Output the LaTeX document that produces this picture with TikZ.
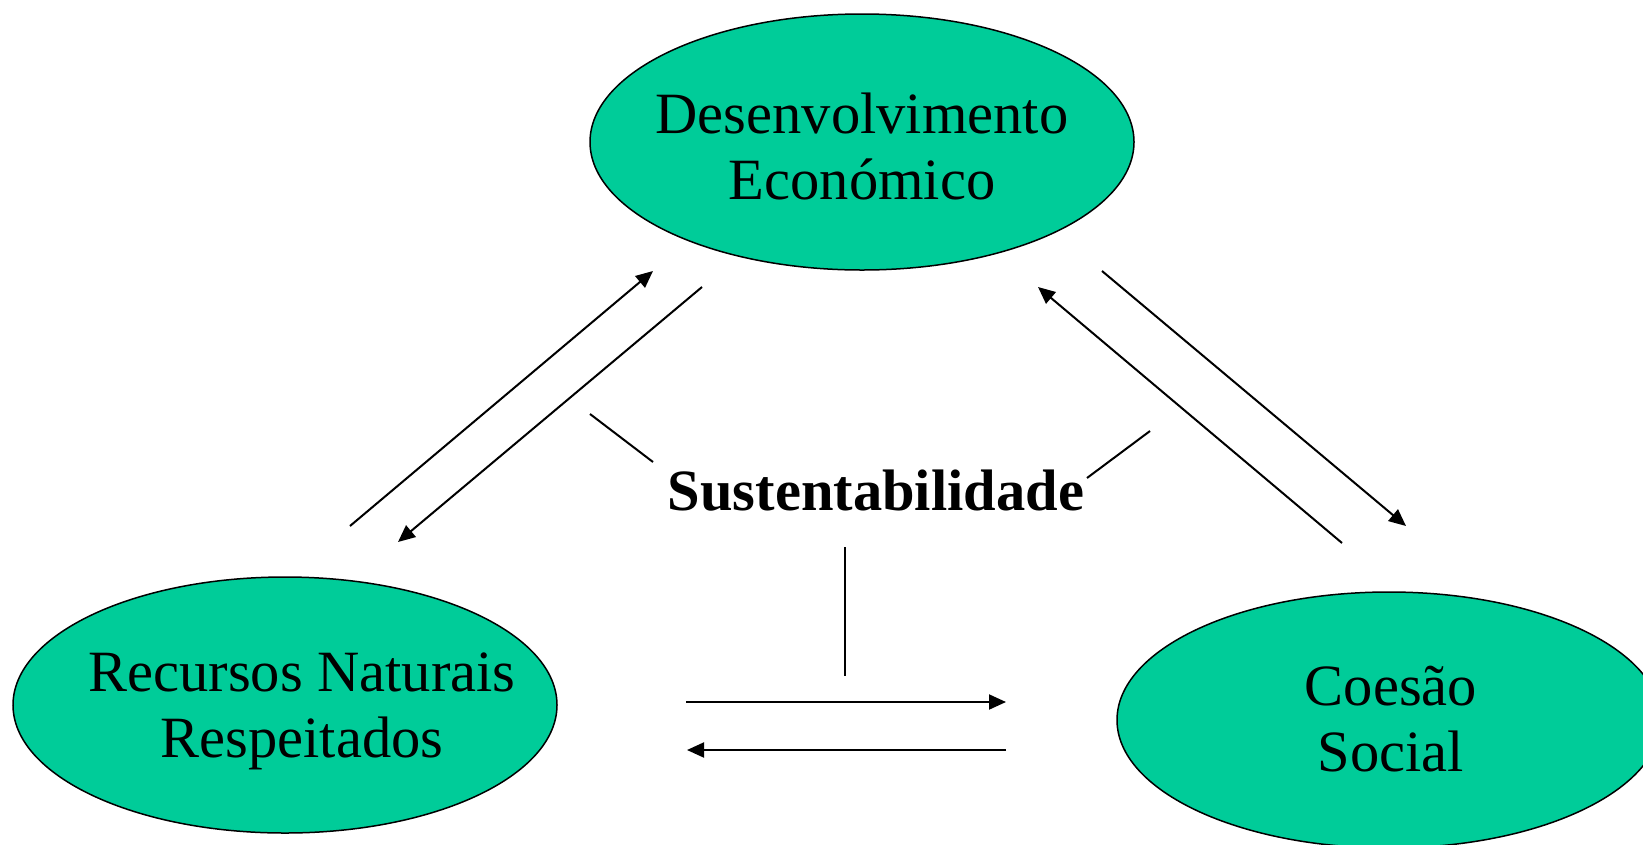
\documentclass[tikz,border=0pt]{standalone}
\usepackage{fontspec}
\setmainfont{Liberation Serif}
\usetikzlibrary{shapes.geometric,arrows.meta}
\definecolor{blobgreen}{RGB}{0,204,153}
\tikzset{
  blob/.style={ellipse, draw=black, line width=1.5pt, fill=blobgreen,
    minimum width=544pt, minimum height=256pt, inner sep=0pt},
  txt/.style={align=center, inner sep=0pt,
    font=\fontsize{58.5pt}{66pt}\selectfont},
  conn/.style={line width=2pt, -{Triangle[length=17pt,width=15pt]}},
  plain/.style={line width=2pt}
}
\begin{document}
\begin{tikzpicture}[x=1pt,y=-1pt]
\path[use as bounding box, clip] (0,0) rectangle (1643,844);
\fill[white] (0,0) rectangle (1643,844);
% ellipses
\node[blob] (de) at (862,142) {};
\node[blob] (rn) at (285,705) {};
\node[blob] (cs) at (1389,720) {};
\node[txt] (det) at (862,146) {Desenvolvimento\\Económico};
\node[txt] (rnt) at (302,711) {Recursos Naturais\\Respeitados};
\node[txt] (cst) at (1391,719) {Coesão\\Social};
\node[txt, anchor=base, font=\fontsize{58.5pt}{66pt}\selectfont\bfseries] (sus) at (876,510) {Sustentabilidade};
% free ends
\coordinate (a1s) at (350,526); \coordinate (a1e) at (653,271);
\coordinate (a2s) at (702,287); \coordinate (a2e) at (398,542);
\coordinate (a3s) at (1342,543); \coordinate (a3e) at (1038,287);
\coordinate (a4s) at (1102,271); \coordinate (a4e) at (1406,526);
\coordinate (h1s) at (686,702); \coordinate (h1e) at (1006,702);
\coordinate (h2s) at (1006,750); \coordinate (h2e) at (687,750);
\coordinate (l1s) at (590,414); \coordinate (l1e) at (653,462);
\coordinate (l2s) at (1150,431); \coordinate (l2e) at (1087,478);
\coordinate (vs) at (845,547); \coordinate (ve) at (845,676);
% connectors
\draw[conn] (a1s) -- (a1e);
\draw[conn] (a2s) -- (a2e);
\draw[conn] (a3s) -- (a3e);
\draw[conn] (a4s) -- (a4e);
\draw[conn] (h1s) -- (h1e);
\draw[conn] (h2s) -- (h2e);
\draw[plain] (l1s) -- (l1e);
\draw[plain] (l2s) -- (l2e);
\draw[plain] (vs) -- (ve);
\end{tikzpicture}
\end{document}
